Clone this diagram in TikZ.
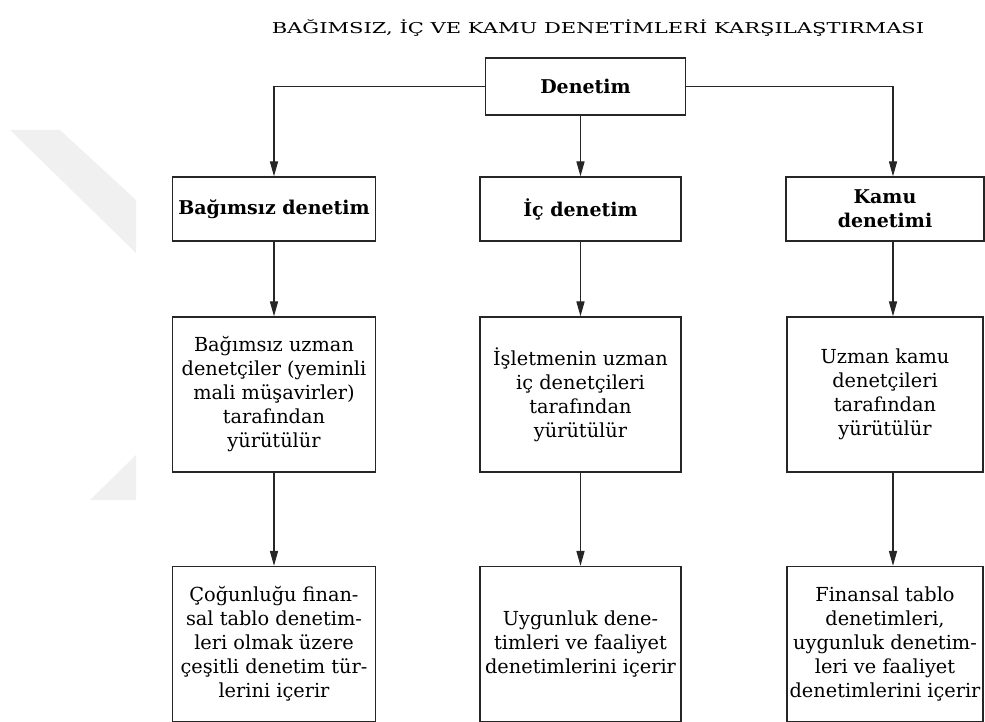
\documentclass[tikz,border=0pt]{standalone}
\usepackage{fontspec}
\setmainfont{DejaVu Serif}
\usetikzlibrary{arrows.meta}

\begin{document}
\begin{tikzpicture}[x=0.02cm,y=-0.02cm,
	kutu/.style={draw=black!85,line width=0.8pt,inner sep=0pt,align=center,font=\fontsize{11}{13.66}\selectfont},
	baslik/.style={kutu,font=\fontsize{10.8}{13.66}\selectfont\bfseries,minimum height=1.28cm},
	aciklama/.style={kutu,minimum height=3.1cm},
	ok/.style={draw=black!85,line width=0.7pt,-{Triangle[length=8.5pt,width=4.6pt]}}]
	\useasboundingbox (0,0) rectangle (985,722);

	% The faint mark on the left
	\fill[black!6] (10,130) -- (60,130) -- (136,200) -- (136,253) -- cycle;
	\fill[black!6] (136,455) -- (136,500) -- (90,500) -- cycle;

	\node (title) at (598,28) {\fontsize{8.5}{10}\selectfont\scalebox{1.41}[1]{BAĞIMSIZ, İÇ VE KAMU DENETİMLERİ KARŞILAŞTIRMASI}};

	% The top box
	\node[baslik,minimum width=4cm,minimum height=1.14cm] (denetim) at (585.5,86.5) {Denetim};

	% The three kinds of audit
	\node[baslik,minimum width=4.06cm] (bagimsiz) at (274,209) {Bağımsız denetim};
	\node[baslik,minimum width=4.02cm] (ic) at (580.5,209) {İç denetim};
	\node[baslik,minimum width=3.96cm] (kamu) at (885,209) {Kamu\\denetimi};

	% Who carries them out
	\node[aciklama,minimum width=4.06cm] (bagimsizkim) at (274,394.5) {Bağımsız uzman\\denetçiler (yeminli\\mali müşavirler)\\tarafından\\yürütülür};
	\node[aciklama,minimum width=4.02cm] (ickim) at (580.5,394.5) {İşletmenin uzman\\iç denetçileri\\tarafından\\yürütülür};
	\node[aciklama,minimum width=3.92cm] (kamukim) at (885,394.5) {Uzman kamu\\denetçileri\\tarafından\\yürütülür};

	% What they cover
	\node[aciklama,minimum width=4.06cm] (bagimsizkapsam) at (274,644) {Çoğunluğu finan-\\sal tablo denetim-\\leri olmak üzere\\çeşitli denetim tür-\\lerini içerir};
	\node[aciklama,minimum width=4.02cm] (ickapsam) at (580.5,644) {Uygunluk dene-\\timleri ve faaliyet\\denetimlerini içerir};
	\node[aciklama,minimum width=3.92cm] (kamukapsam) at (885,644) {Finansal tablo\\denetimleri,\\uygunluk denetim-\\leri ve faaliyet\\denetimlerini içerir};

	% Connectors
	\coordinate (kx) at (893,0);
	\draw[ok] (denetim.west) -| (bagimsiz.north);
	\draw[ok] (ic.north |- denetim.south) -- (ic.north);
	\draw[ok] (denetim.east) -| (kamu.north -| kx);
	\foreach \ust/\alt in {bagimsiz/bagimsizkim,ic/ickim,bagimsizkim/bagimsizkapsam,ickim/ickapsam}
		\draw[ok] (\ust.south) -- (\alt.north);
	\draw[ok] (kamu.south -| kx) -- (kamukim.north -| kx);
	\draw[ok] (kamukim.south -| kx) -- (kamukapsam.north -| kx);
\end{tikzpicture}
\end{document}
